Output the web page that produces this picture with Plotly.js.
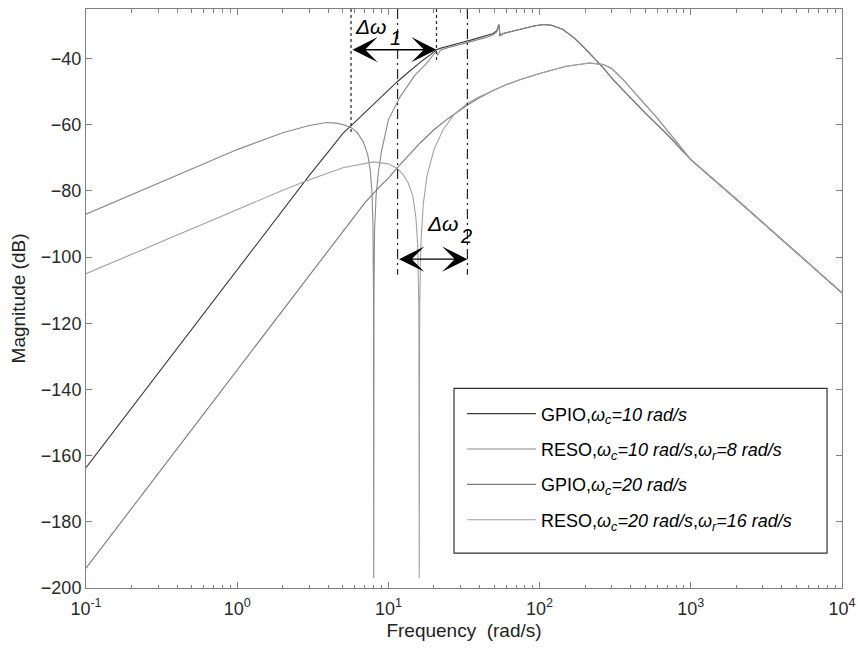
<!DOCTYPE html>
<html><head><meta charset="utf-8">
<script src="https://cdn.plot.ly/plotly-3.0.1.min.js"></script>
<style>html,body{margin:0;padding:0;background:#fff}#chart{width:858px;height:649px}</style>
</head><body><div id="chart"></div>
<script>
// ---- data (frequency in rad/s, magnitude in dB) ----
const freqGPIO10 = [0.1,0.2,0.5,1,2,3,4,5,6,7,8,9,10,11.5,13,15,17,19,20.8,22,25,30,35,40,45,49.4,52,53.8,54.7,57.5,65,75,90,105,120,143,170,200,230,264,307,400,500,700,1000,2000,5000,10000];
const magGPIO10  = [-163.6,-145.6,-121.7,-103.7,-85.6,-75.3,-68.2,-62.6,-59.2,-56.3,-53.6,-51.3,-49.3,-46.9,-44.8,-42.4,-40.4,-38.8,-37.3,-36.9,-36.1,-35.2,-34.4,-33.7,-33.1,-32.4,-31.6,-29.7,-33.0,-32.4,-31.8,-31.0,-30.2,-29.7,-29.9,-31.2,-33.8,-37.0,-39.8,-42.8,-46.4,-52.0,-56.5,-63.0,-70.5,-82.5,-98.5,-110.8];

const freqRESO10 = [0.1,0.2,0.5,1,2,3,3.9,4.5,5,5.66,6.2,6.8,7.3,7.6,7.8,7.9,7.97,8.0,8.03,8.1,8.3,8.6,9,10,12,15,18,20.6,21.2,22,25,30,35,40,45,49.4,52,53.8,54.7,57.5,65,75,90,105,120,143,170,200,230,264,307,400,500,700,1000,2000,5000,10000];
const magRESO10  = [-87,-81.1,-73.3,-67.5,-62.4,-60.2,-59.3,-59.5,-59.9,-60.8,-62.3,-65,-69,-74,-81,-90,-110,-197,-110,-92,-81,-74,-68,-58.5,-51.4,-45,-41.3,-37.9,-39.0,-37.5,-36.6,-35.7,-34.9,-34.2,-33.5,-32.8,-31.9,-29.9,-33.0,-32.4,-31.8,-31.0,-30.2,-29.7,-29.9,-31.2,-33.8,-37.0,-39.8,-42.8,-46.4,-52.0,-56.5,-63.0,-70.5,-82.5,-98.5,-110.8];

const freqGPIO20 = [0.1,0.2,0.5,1,2,3,5,5.71,7,8.8,10,11.35,13,16.2,20,25,33.3,40,50,60,74,100,150,215,264,300,358,450,600,800,1000,2000,5000,10000];
const magGPIO20  = [-194,-176,-152.1,-134,-116,-105.5,-92.2,-88.7,-83.5,-78.6,-76.1,-73.2,-70.2,-65.5,-61.5,-58,-54,-51.8,-49.5,-47.9,-46.4,-44.5,-42.3,-41.3,-41.8,-43.0,-46.4,-51.5,-58,-65,-70.5,-82.5,-98.5,-110.8];

const freqRESO20 = [0.1,0.2,0.5,1,2,3,5,7.94,10,11.35,12.5,13.5,14.5,15.2,15.6,15.9,16,16.1,16.4,17,18,20,23,27,33.3,40,50,60,74,100,150,215,264,300,358,450,600,800,1000,2000,5000,10000];
const magRESO20  = [-105,-99.2,-91.3,-85.6,-79.8,-76.6,-73,-71.2,-71.8,-73.1,-75,-77.5,-81.5,-88,-96,-115,-197,-115,-96,-84,-75.5,-67.5,-61.5,-57,-53.5,-51.5,-49.5,-47.9,-46.4,-44.5,-42.3,-41.3,-41.8,-43.0,-46.4,-51.5,-58,-65,-70.5,-82.5,-98.5,-110.8];

const seriesNames = [
  'GPIO,<i>ω<sub>c</sub>=10 rad/s</i>',
  'RESO,<i>ω<sub>c</sub>=10 rad/s</i>,<i>ω<sub>r</sub>=8 rad/s</i>',
  'GPIO,<i>ω<sub>c</sub>=20 rad/s</i>',
  'RESO,<i>ω<sub>c</sub>=20 rad/s</i>,<i>ω<sub>r</sub>=16 rad/s</i>'
];
const xTickVals = [0.1,1,10,100,1000,10000];
const xTickText = ['10<sup>-1</sup>','10<sup>0</sup>','10<sup>1</sup>','10<sup>2</sup>','10<sup>3</sup>','10<sup>4</sup>'];
const yTickVals = [-200,-180,-160,-140,-120,-100,-80,-60,-40];

// bandwidth markers (rad/s) and their arrow levels (dB)
const band1 = [5.66, 20.8];   const band1Level = -37.3;
const band2 = [11.5, 33.3];   const band2Level = -100.6;
const band1LineEnds = [-62.4, -41.2];   // lower ends of dotted lines (dB)
const band2LineEnd = -105.3;            // lower end of dash-dot lines (dB)

// ---- build ----
const colors = ['#3a3a3a','#8a8a8a','#7a7a7a','#a2a2a2'];
const freqs = [freqGPIO10, freqRESO10, freqGPIO20, freqRESO20];
const mags = [magGPIO10, magRESO10, magGPIO20, magRESO20];
const traces = freqs.map((f,i)=>({
  x: f, y: mags[i], type:'scatter', mode:'lines', name: seriesNames[i],
  legendgroup: 'g'+i,
  line:{color:colors[i], width:1.1}
}));
// carrier for the mirrored top axis (no visible marks)
traces.push({x:[], y:[], xaxis:'x2', yaxis:'y', type:'scatter', mode:'lines', showlegend:false, hoverinfo:'skip'});

const minorVals = [];
for (let e=-1; e<4; e++) for (let d=2; d<=9; d++) minorVals.push(d*Math.pow(10,e));

const font = "Arial, 'Liberation Sans', sans-serif";
const yTop = -25, yBot = -200;
const shapes = [];
band1.forEach((w,i)=>shapes.push({type:'line', xref:'x', yref:'y', x0:w, x1:w, y0:yTop, y1:band1LineEnds[i], line:{color:'#222', width:1.2, dash:'dot'}}));
band2.forEach(w=>shapes.push({type:'line', xref:'x', yref:'y', x0:w, x1:w, y0:yTop, y1:band2LineEnd, line:{color:'#222', width:1.2, dash:'10px,4px,2px,4px'}}));
// legend frame
shapes.push({type:'rect', xref:'paper', yref:'paper', x0:0.4868, x1:0.9802, y0:0.0604, y1:0.3449, line:{color:'#333', width:1.2}, fillcolor:'rgba(0,0,0,0)', layer:'above'});

const L = Math.log10;
const arrowStyle = {axref:'x', ayref:'y', xref:'x', yref:'y', text:'', showarrow:true,
   arrowhead:3, startarrowhead:3, arrowside:'end+start', arrowsize:3.0, startarrowsize:3.0, arrowwidth:1.4, arrowcolor:'#000', standoff:0, startstandoff:0};
const annotations = [
  Object.assign({x:L(band1[1]), y:band1Level, ax:L(band1[0]), ay:band1Level}, arrowStyle),
  Object.assign({x:L(band2[1]), y:band2Level, ax:L(band2[0]), ay:band2Level}, arrowStyle),
  {x:0.766, y:-30.3, xref:'x', yref:'y', text:'<i>Δω</i>', showarrow:false, xanchor:'left', yanchor:'middle', font:{family:font, size:21, color:'#000'}},
  {x:1.050, y:-33.9, xref:'x', yref:'y', text:'<i>1</i>', showarrow:false, xanchor:'center', yanchor:'middle', font:{family:font, size:20, color:'#000'}},
  {x:1.242, y:-89.9, xref:'x', yref:'y', text:'<i>Δω</i>', showarrow:false, xanchor:'left', yanchor:'middle', font:{family:font, size:21, color:'#000'}},
  {x:1.513, y:-93.5, xref:'x', yref:'y', text:'<i>2</i>', showarrow:false, xanchor:'center', yanchor:'middle', font:{family:font, size:20, color:'#000'}}
];

const axisCommon = {ticks:'inside', ticklen:6, tickcolor:'#808080', showline:true, linecolor:'#808080', linewidth:1,
                    showgrid:false, zeroline:false, tickfont:{size:18, color:'#2a2a2a'}};
const layout = {
  width:858, height:649,
  margin:{l:86, r:16, t:9, b:61},
  paper_bgcolor:'#fff', plot_bgcolor:'#fff',
  font:{family:font, size:18, color:'#333'},
  showlegend:true,
  legend:{x:0.4974, y:0.3326, xanchor:'left', yanchor:'top', bgcolor:'rgba(0,0,0,0)', borderwidth:0,
          itemwidth:69, tracegroupgap:9, font:{family:font, size:18, color:'#000'}},
  xaxis:Object.assign({}, axisCommon, {type:'log', range:[-1,4], tickvals:xTickVals, ticktext:xTickText, ticklabelstandoff:4,
         minor:{tickvals:minorVals, ticks:'inside', ticklen:3.5, tickcolor:'#808080', showgrid:false},
         title:{text:'Frequency  (rad/s)', font:{size:19, color:'#222'}, standoff:6}}),
  xaxis2:Object.assign({}, axisCommon, {type:'log', range:[-1,4], overlaying:'x', side:'top', anchor:'y',
         tickvals:xTickVals, showticklabels:false,
         minor:{tickvals:minorVals, ticks:'inside', ticklen:3.5, tickcolor:'#808080', showgrid:false}}),
  yaxis:Object.assign({}, axisCommon, {range:[yBot,yTop], tickvals:yTickVals, mirror:'ticks',
         title:{text:'Magnitude (dB)', font:{size:19, color:'#222'}, standoff:10}}),
  shapes, annotations
};
Plotly.newPlot('chart', traces, layout, {staticPlot:true, displayModeBar:false});
</script></body></html>
